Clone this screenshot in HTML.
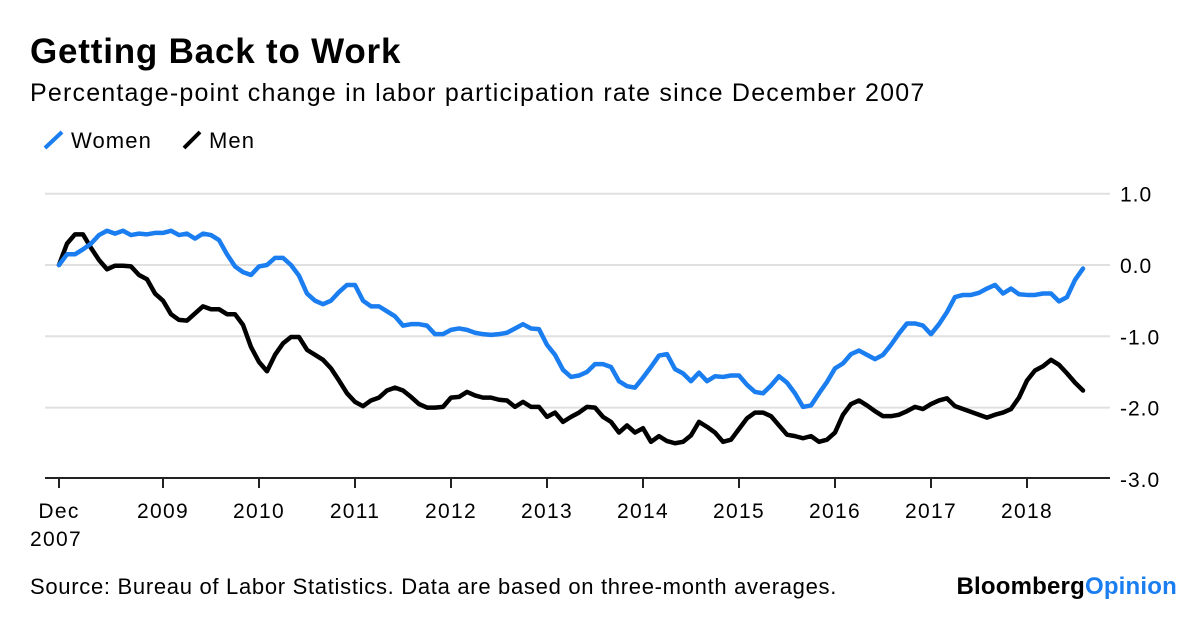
<!DOCTYPE html>
<html><head><meta charset="utf-8"><style>
body{margin:0;background:#fff;width:1200px;height:612px;overflow:hidden;font-family:"Liberation Sans",sans-serif}
svg text{font-family:"Liberation Sans",sans-serif}
</style></head><body>
<svg width="1200" height="612" xmlns="http://www.w3.org/2000/svg">
<text x="30" y="63" font-size="35" font-weight="bold" letter-spacing="0.8" fill="#000">Getting Back to Work</text>
<text x="30" y="101" font-size="25" letter-spacing="1.2" fill="#000">Percentage-point change in labor participation rate since December 2007</text>
<g>
<line x1="45" y1="148" x2="62" y2="132" stroke="#1a7df0" stroke-width="4"/>
<text x="71" y="148" font-size="22" letter-spacing="1.1">Women</text>
<line x1="184" y1="148" x2="200" y2="132" stroke="#000" stroke-width="4"/>
<text x="209" y="148" font-size="22" letter-spacing="1.1">Men</text>
</g>
<g id="grid"></g><g id="axis"></g><g id="series"></g>
<text x="30" y="594" font-size="22" letter-spacing="0.7">Source: Bureau of Labor Statistics. Data are based on three-month averages.</text>
<text x="1177" y="594" font-size="24" font-weight="bold" text-anchor="end" letter-spacing="0.2">Bloomberg<tspan fill="#1a7df0">Opinion</tspan></text>
</svg>
<script>
const yTicks=[1,0,-1,-2,-3];
const yTickLabels=["1.0","0.0","-1.0","-2.0","-3.0"];
const xTickMonths=[0,13,25,37,49,61,73,85,97,109,121];
const xTickLabels=["Dec","2009","2010","2011","2012","2013","2014","2015","2016","2017","2018"];
const women=[0,0.15,0.15,0.22,0.3,0.42,0.48,0.44,0.48,0.42,0.44,0.43,0.45,0.45,0.48,0.42,0.44,0.37,0.44,0.42,0.35,0.15,-0.02,-0.1,-0.14,-0.02,0,0.1,0.1,0,-0.15,-0.4,-0.5,-0.55,-0.5,-0.38,-0.28,-0.28,-0.5,-0.58,-0.58,-0.65,-0.72,-0.85,-0.83,-0.83,-0.85,-0.97,-0.97,-0.91,-0.89,-0.91,-0.95,-0.97,-0.98,-0.97,-0.95,-0.89,-0.83,-0.89,-0.9,-1.12,-1.26,-1.47,-1.57,-1.55,-1.5,-1.39,-1.39,-1.43,-1.63,-1.7,-1.72,-1.58,-1.43,-1.27,-1.25,-1.46,-1.52,-1.63,-1.51,-1.63,-1.56,-1.57,-1.55,-1.55,-1.68,-1.78,-1.8,-1.69,-1.56,-1.65,-1.8,-1.99,-1.97,-1.8,-1.64,-1.45,-1.38,-1.25,-1.2,-1.26,-1.32,-1.26,-1.12,-0.96,-0.82,-0.82,-0.85,-0.97,-0.83,-0.66,-0.45,-0.42,-0.42,-0.39,-0.33,-0.28,-0.4,-0.33,-0.41,-0.42,-0.42,-0.4,-0.4,-0.51,-0.45,-0.21,-0.05];
const men=[0,0.3,0.43,0.43,0.24,0.07,-0.06,-0.01,-0.01,-0.02,-0.14,-0.2,-0.4,-0.5,-0.69,-0.77,-0.78,-0.68,-0.58,-0.62,-0.62,-0.69,-0.69,-0.84,-1.15,-1.36,-1.49,-1.26,-1.1,-1.01,-1.01,-1.19,-1.26,-1.33,-1.45,-1.62,-1.8,-1.92,-1.98,-1.9,-1.86,-1.76,-1.72,-1.76,-1.85,-1.95,-2,-2,-1.99,-1.86,-1.85,-1.78,-1.83,-1.86,-1.86,-1.89,-1.9,-1.99,-1.92,-1.99,-1.99,-2.13,-2.07,-2.2,-2.13,-2.07,-1.99,-2,-2.13,-2.2,-2.35,-2.25,-2.35,-2.29,-2.48,-2.4,-2.47,-2.5,-2.48,-2.39,-2.2,-2.27,-2.35,-2.48,-2.45,-2.3,-2.15,-2.07,-2.07,-2.12,-2.25,-2.38,-2.4,-2.43,-2.4,-2.48,-2.45,-2.35,-2.1,-1.95,-1.9,-1.97,-2.05,-2.12,-2.12,-2.1,-2.05,-1.99,-2.02,-1.95,-1.9,-1.87,-1.98,-2.02,-2.06,-2.1,-2.14,-2.1,-2.07,-2.02,-1.86,-1.62,-1.48,-1.42,-1.33,-1.4,-1.52,-1.65,-1.76];
const NS="http://www.w3.org/2000/svg";
const xs=m=>59+m*8.0;
const ys=v=>265-v*71.3;
const grid=document.getElementById('grid'),axis=document.getElementById('axis'),series=document.getElementById('series');
function mk(tag,attrs,parent){const e=document.createElementNS(NS,tag);for(const k in attrs)e.setAttribute(k,attrs[k]);parent.appendChild(e);return e;}
yTicks.forEach((v,i)=>{
  if(v>-3){const l=mk('line',{x1:45,x2:1110,y1:ys(v),y2:ys(v),stroke:'#e0e0e0','stroke-width':2},grid);
  
  }
  const t=mk('text',{x:1120,y:ys(v)+8,'font-size':21,'letter-spacing':1},axis);t.textContent=yTickLabels[i];
  
  
});
const base=mk('line',{x1:45,x2:1110,y1:478,y2:478,stroke:'#222','stroke-width':2},axis);


xTickMonths.forEach((m,i)=>{
  const tk=mk('line',{x1:xs(m),x2:xs(m),y1:478,y2:488,stroke:'#222','stroke-width':2},axis);
  
  
  const t=mk('text',{x:xs(m),y:518,'font-size':21,'letter-spacing':1.3,'text-anchor':'middle'},axis);t.textContent=xTickLabels[i];
  
  
});
const t2=mk('text',{x:xs(0)-3,y:546,'font-size':21,'letter-spacing':1.3,'text-anchor':'middle'},axis);t2.textContent="2007";


function line(arr,color,name){
  const p=mk('polyline',{points:arr.map((v,i)=>xs(i)+','+ys(v)).join(' '),fill:'none',stroke:color,'stroke-width':4.5,'stroke-linejoin':'round','stroke-linecap':'round'},series);
  
  
}
line(men,'#000','men-line');
line(women,'#1a7df0','women-line');
</script>
</body></html>
